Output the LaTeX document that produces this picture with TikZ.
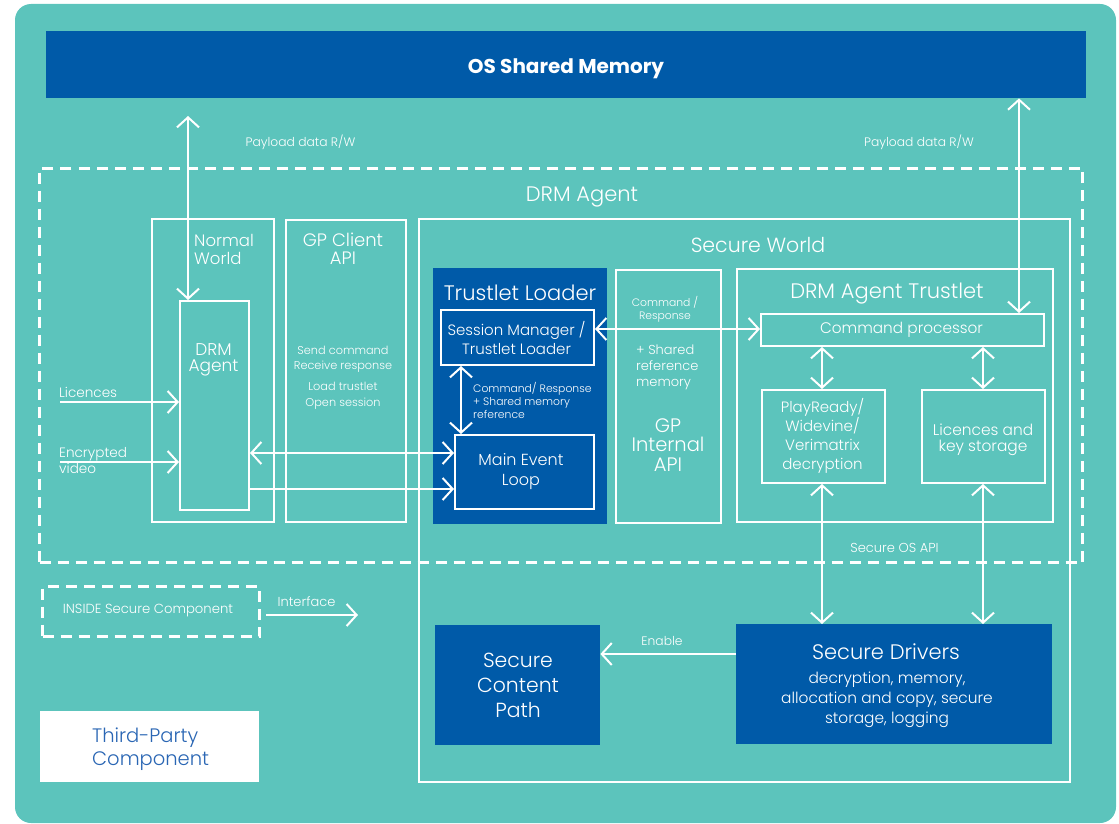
\documentclass[tikz,border=0pt]{standalone}
\usepackage{fontspec}
\setmainfont{Poppins}[UprightFont={* Light}, BoldFont={* Bold}]
\usetikzlibrary{arrows.meta}
\definecolor{bgteal}{HTML}{5CC4BC}
\definecolor{dblue}{HTML}{005AA8}
\definecolor{tpblue}{HTML}{2A66B4}
\newcommand\fsz[2]{\fontsize{#1}{#2}\selectfont}
\tikzset{
  lbl/.style={text=white, inner sep=0pt, align=center},
  box/.style={draw=white, line width=2pt, anchor=north west, inner sep=0pt},
  dbox/.style={fill=dblue, anchor=north west, inner sep=0pt},
  dashbox/.style={draw=white, line width=3pt, dash pattern=on 11pt off 7pt, anchor=north west, inner sep=0pt},
  arr/.style={draw=white, line width=2pt, -{Straight Barb[length=10pt,width=22pt]}},
  dbl/.style={draw=white, line width=2pt, {Straight Barb[length=10pt,width=22pt]}-{Straight Barb[length=10pt,width=22pt]}},
}
\begin{document}
\begin{tikzpicture}[x=1pt,y=-1pt]
\useasboundingbox (0,0) rectangle (1119,824);
\fill[bgteal, rounded corners=16pt] (15,4) rectangle (1116,823);

% OS shared memory
\node[dbox, minimum width=1040, minimum height=67] (osm) at (46,31) {};
\node[lbl, font=\fsz{20}{22}\bfseries] (osmt) at (566,69) {OS Shared Memory};

% DRM Agent dashed region
\node[dashbox, minimum width=1043, minimum height=394] (drmag) at (38,167) {};
\node[lbl, font=\fsz{21}{24}] (drmagt) at (582,197) {DRM Agent};

% Normal world
\node[box, minimum width=122, minimum height=303] (nw) at (151,218) {};
\node[lbl, align=left, anchor=west, font=\fsz{16.5}{18}] (nwt) at (194,249.5) {Normal\\World};
\node[box, minimum width=69, minimum height=209] (da) at (179,300) {};
\node[lbl, font=\fsz{17}{16}] (dat0) at (213.5,360) {DRM\\Agent};

% GP Client API
\node[box, minimum width=120, minimum height=302] (gpc) at (285,219) {};
\node[lbl, font=\fsz{18}{18}] (gpct) at (343,249) {GP Client\\API};
\node[lbl, font=\fsz{11.3}{15}] (gpc1) at (343,359.5) {Send command\\Receive response};
\node[lbl, font=\fsz{11.3}{15}] (gpc2) at (343,386) {Load trustlet};
\node[lbl, font=\fsz{11.3}{15}] (gpc3) at (343,404) {Open session};

% Secure world
\node[box, minimum width=651, minimum height=563] (sw) at (418,218) {};
\node[lbl, font=\fsz{20.5}{22}] (swt) at (758,245) {Secure World};

% Trustlet loader
\node[dbox, minimum width=174, minimum height=256] (tl) at (433,268) {};
\node[lbl, font=\fsz{21}{22}] (tlt) at (520,293) {Trustlet Loader};
\node[box, minimum width=153, minimum height=55] (sm) at (440,309) {};
\node[lbl, font=\fsz{15}{19}] (smt) at (516.5,338) {Session Manager /\\Trustlet Loader};
\node[box, minimum width=139, minimum height=74] (mel) at (454,434) {};
\node[lbl, font=\fsz{16}{20}] (melt) at (521,472) {Main Event\\Loop};
\coordinate (c461) at (461,0);
\draw[dbl] (sm.south -| c461) -- (mel.north -| c461);
\node[lbl, align=left, anchor=west, font=\fsz{10.8}{13}] (smlab) at (473,400.5) {Command/ Response\\+ Shared memory\\reference};

% GP internal API
\node[box, minimum width=105, minimum height=253] (gpi) at (615,269) {};
\node[lbl, font=\fsz{10.8}{13}] (gpil1) at (665,309.5) {Command /\\Response};
\node[lbl, align=left, anchor=west, font=\fsz{13}{16}] (gpil2) at (636,367) {+ Shared\\reference\\memory};
\node[lbl, font=\fsz{19.5}{19.5}] (gpit) at (668,445) {GP\\Internal\\API};

% DRM agent trustlet
\node[box, minimum width=316, minimum height=253] (dtr) at (736,268) {};
\node[lbl, font=\fsz{21}{22}] (dtrt) at (887,294) {DRM Agent Trustlet};
\node[box, minimum width=283, minimum height=32] (cmdp) at (760,313) {};
\node[lbl, font=\fsz{15.3}{16}] (cmdpt) at (901.5,330) {Command processor};
\node[box, minimum width=123, minimum height=93] (pr) at (761,389) {};
\node[lbl, font=\fsz{15}{19}] (prt) at (822.5,436) {PlayReady/\\Widevine/\\Verimatrix\\decryption};
\node[box, minimum width=123, minimum height=93] (lic) at (921,389) {};
\node[lbl, font=\fsz{15.4}{16}] (lict) at (983,440) {Licences and\\key storage};

% Secure drivers & content path
\node[dbox, minimum width=316, minimum height=120] (sd) at (736,624) {};
\node[lbl, font=\fsz{21}{22}] (sdt) at (886,652) {Secure Drivers};
\node[lbl, font=\fsz{15.4}{20}] (sdb) at (887,700) {decryption, memory,\\allocation and copy, secure\\storage, logging};
\node[dbox, minimum width=165, minimum height=120] (scp) at (435,625) {};
\node[lbl, font=\fsz{20.4}{25}] (scpt) at (518,685) {Secure\\Content\\Path};

% connectors
\coordinate (c188) at (188,116);
\coordinate (c1019) at (1019,0);
\coordinate (c822) at (822,0);
\coordinate (c983) at (983,0);
\coordinate (y329) at (0,329);
\coordinate (y453) at (0,453);
\coordinate (y489) at (0,489);
\coordinate (y654) at (0,654);
\coordinate (lic0) at (60,402);
\coordinate (enc0) at (60,462);

\draw[dbl] (c188) -- (da.north -| c188);
\draw[dbl] (osm.south -| c1019) -- (cmdp.north -| c1019);
\draw[dbl] (sm.east |- y329) -- (cmdp.west |- y329);
\draw[dbl] (cmdp.south -| c822) -- (pr.north -| c822);
\draw[dbl] (cmdp.south -| c983) -- (lic.north -| c983);
\draw[dbl] (pr.south -| c822) -- (sd.north -| c822);
\draw[dbl] (lic.south -| c983) -- (sd.north -| c983);
\draw[arr] (sd.west |- y654) -- (scp.east |- y654);
\draw[arr] (lic0) -- (da.west |- lic0);
\draw[arr] (enc0) -- (da.west |- enc0);
\draw[dbl] (da.east |- y453) -- (mel.west |- y453);
\draw[arr] (da.east |- y489) -- (mel.west |- y489);

% labels
\node[lbl, font=\fsz{12.3}{13}] (pl1) at (300.5,142) {Payload data R/W};
\node[lbl, font=\fsz{12.3}{13}] (pl2) at (919,142) {Payload data R/W};
\node[lbl, font=\fsz{13}{13}] (sosapi) at (894.5,548) {Secure OS API};
\node[lbl, font=\fsz{12.3}{13}] (enab) at (662,641) {Enable};
\node[lbl, anchor=west, font=\fsz{13.6}{13}] (licl) at (59,392) {Licences};
\node[lbl, anchor=west, align=left, font=\fsz{13.6}{16}] (encl) at (59,461) {Encrypted\\video};

% legend
\node[dashbox, minimum width=217, minimum height=50] (ins) at (41,585) {};
\node[lbl, font=\fsz{13.2}{13}] (inst) at (148,611) {INSIDE Secure Component};
\coordinate (if0) at (266,615);
\coordinate (if1) at (358,615);
\draw[arr] (if0) -- (if1);
\node[lbl, font=\fsz{13}{13}] (ifl) at (306.5,602) {Interface};
\node[fill=white, anchor=north west, inner sep=0pt, minimum width=219, minimum height=71] (tp) at (40,711) {};
\node[text=tpblue, inner sep=0pt, align=left, anchor=west, font=\fsz{19.5}{23}] (tpt) at (92,749.5) {Third-Party\\Component};
\end{tikzpicture}
\end{document}
